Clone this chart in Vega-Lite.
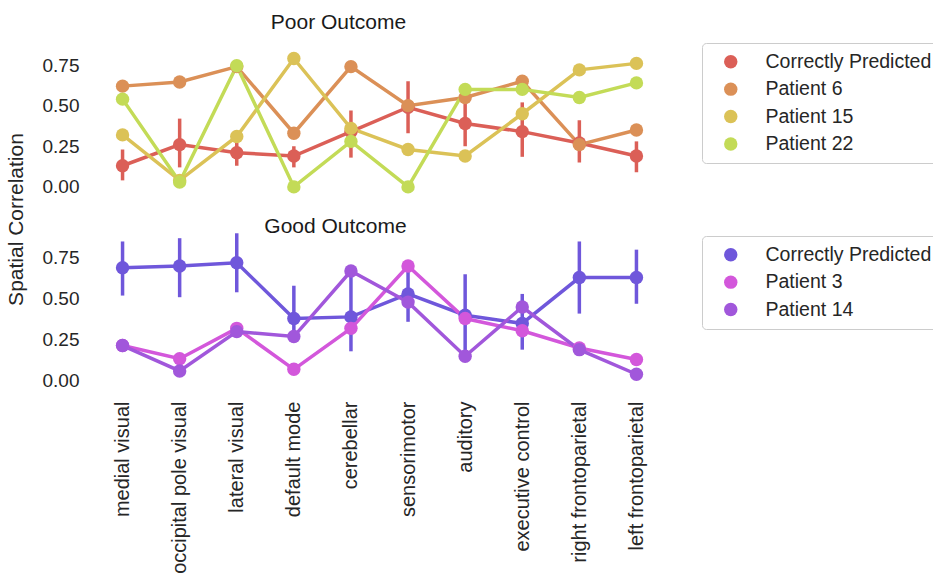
{
  "$schema": "https://vega.github.io/schema/vega-lite/v6.json",
  "background": "white",
  "padding": {"left": 5, "top": 11, "right": 0, "bottom": 0},
  "config": {
    "font": "Liberation Sans",
    "view": {"stroke": null},
    "axis": {"grid": false, "domain": false, "ticks": false, "labelFont": "Liberation Sans", "labelFontSize": 19, "labelColor": "#262626", "titleFont": "Liberation Sans", "titleFontSize": 21, "titleFontWeight": "normal", "titleColor": "#262626"},
    "title": {"fontSize": 21, "fontWeight": "normal", "color": "#1a1a1a", "font": "Liberation Sans"},
    "legend": {"strokeColor": "#cccccc", "cornerRadius": 4, "fillColor": "white", "padding": 9, "symbolOffset": 10, "labelOffset": 25, "labelFont": "Liberation Sans", "labelFontSize": 19.5, "labelColor": "#262626", "symbolType": "circle", "symbolSize": 180, "symbolOpacity": 1, "symbolStrokeWidth": 0, "rowPadding": 6.4, "labelLimit": 400}
  },
  "datasets": {
    "poor": [
      {"series": "Correctly Predicted", "i": 0, "network": "medial visual", "value": 0.13, "lo": 0.04, "hi": 0.23},
      {"series": "Correctly Predicted", "i": 1, "network": "occipital pole visual", "value": 0.26, "lo": 0.12, "hi": 0.42},
      {"series": "Correctly Predicted", "i": 2, "network": "lateral visual", "value": 0.21, "lo": 0.13, "hi": 0.27},
      {"series": "Correctly Predicted", "i": 3, "network": "default mode", "value": 0.19, "lo": 0.12, "hi": 0.25},
      {"series": "Correctly Predicted", "i": 4, "network": "cerebellar", "value": 0.34, "lo": 0.18, "hi": 0.47},
      {"series": "Correctly Predicted", "i": 5, "network": "sensorimotor", "value": 0.49, "lo": 0.33, "hi": 0.65},
      {"series": "Correctly Predicted", "i": 6, "network": "auditory", "value": 0.39, "lo": 0.25, "hi": 0.52},
      {"series": "Correctly Predicted", "i": 7, "network": "executive control", "value": 0.34, "lo": 0.185, "hi": 0.52},
      {"series": "Correctly Predicted", "i": 8, "network": "right frontoparietal", "value": 0.27, "lo": 0.15, "hi": 0.41},
      {"series": "Correctly Predicted", "i": 9, "network": "left frontoparietal", "value": 0.19, "lo": 0.09, "hi": 0.28},
      {"series": "Patient 6", "i": 0, "network": "medial visual", "value": 0.62},
      {"series": "Patient 6", "i": 1, "network": "occipital pole visual", "value": 0.645},
      {"series": "Patient 6", "i": 2, "network": "lateral visual", "value": 0.74},
      {"series": "Patient 6", "i": 3, "network": "default mode", "value": 0.33},
      {"series": "Patient 6", "i": 4, "network": "cerebellar", "value": 0.74},
      {"series": "Patient 6", "i": 5, "network": "sensorimotor", "value": 0.5},
      {"series": "Patient 6", "i": 6, "network": "auditory", "value": 0.55},
      {"series": "Patient 6", "i": 7, "network": "executive control", "value": 0.65},
      {"series": "Patient 6", "i": 8, "network": "right frontoparietal", "value": 0.26},
      {"series": "Patient 6", "i": 9, "network": "left frontoparietal", "value": 0.35},
      {"series": "Patient 15", "i": 0, "network": "medial visual", "value": 0.32},
      {"series": "Patient 15", "i": 1, "network": "occipital pole visual", "value": 0.04},
      {"series": "Patient 15", "i": 2, "network": "lateral visual", "value": 0.31},
      {"series": "Patient 15", "i": 3, "network": "default mode", "value": 0.79},
      {"series": "Patient 15", "i": 4, "network": "cerebellar", "value": 0.36},
      {"series": "Patient 15", "i": 5, "network": "sensorimotor", "value": 0.23},
      {"series": "Patient 15", "i": 6, "network": "auditory", "value": 0.19},
      {"series": "Patient 15", "i": 7, "network": "executive control", "value": 0.45},
      {"series": "Patient 15", "i": 8, "network": "right frontoparietal", "value": 0.72},
      {"series": "Patient 15", "i": 9, "network": "left frontoparietal", "value": 0.76},
      {"series": "Patient 22", "i": 0, "network": "medial visual", "value": 0.54},
      {"series": "Patient 22", "i": 1, "network": "occipital pole visual", "value": 0.03},
      {"series": "Patient 22", "i": 2, "network": "lateral visual", "value": 0.745},
      {"series": "Patient 22", "i": 3, "network": "default mode", "value": 0.0},
      {"series": "Patient 22", "i": 4, "network": "cerebellar", "value": 0.28},
      {"series": "Patient 22", "i": 5, "network": "sensorimotor", "value": 0.0},
      {"series": "Patient 22", "i": 6, "network": "auditory", "value": 0.6},
      {"series": "Patient 22", "i": 7, "network": "executive control", "value": 0.6},
      {"series": "Patient 22", "i": 8, "network": "right frontoparietal", "value": 0.55},
      {"series": "Patient 22", "i": 9, "network": "left frontoparietal", "value": 0.64}
    ],
    "good": [
      {"series": "Correctly Predicted", "i": 0, "network": "medial visual", "value": 0.69, "lo": 0.52, "hi": 0.85},
      {"series": "Correctly Predicted", "i": 1, "network": "occipital pole visual", "value": 0.7, "lo": 0.51, "hi": 0.87},
      {"series": "Correctly Predicted", "i": 2, "network": "lateral visual", "value": 0.72, "lo": 0.54, "hi": 0.9},
      {"series": "Correctly Predicted", "i": 3, "network": "default mode", "value": 0.38, "lo": 0.28, "hi": 0.58},
      {"series": "Correctly Predicted", "i": 4, "network": "cerebellar", "value": 0.39, "lo": 0.18, "hi": 0.65},
      {"series": "Correctly Predicted", "i": 5, "network": "sensorimotor", "value": 0.53, "lo": 0.36, "hi": 0.68},
      {"series": "Correctly Predicted", "i": 6, "network": "auditory", "value": 0.4, "lo": 0.15, "hi": 0.65},
      {"series": "Correctly Predicted", "i": 7, "network": "executive control", "value": 0.35, "lo": 0.19, "hi": 0.53},
      {"series": "Correctly Predicted", "i": 8, "network": "right frontoparietal", "value": 0.63, "lo": 0.41, "hi": 0.85},
      {"series": "Correctly Predicted", "i": 9, "network": "left frontoparietal", "value": 0.63, "lo": 0.47, "hi": 0.8},
      {"series": "Patient 3", "i": 0, "network": "medial visual", "value": 0.215},
      {"series": "Patient 3", "i": 1, "network": "occipital pole visual", "value": 0.135},
      {"series": "Patient 3", "i": 2, "network": "lateral visual", "value": 0.32},
      {"series": "Patient 3", "i": 3, "network": "default mode", "value": 0.07},
      {"series": "Patient 3", "i": 4, "network": "cerebellar", "value": 0.32},
      {"series": "Patient 3", "i": 5, "network": "sensorimotor", "value": 0.7},
      {"series": "Patient 3", "i": 6, "network": "auditory", "value": 0.38},
      {"series": "Patient 3", "i": 7, "network": "executive control", "value": 0.305},
      {"series": "Patient 3", "i": 8, "network": "right frontoparietal", "value": 0.2},
      {"series": "Patient 3", "i": 9, "network": "left frontoparietal", "value": 0.13},
      {"series": "Patient 14", "i": 0, "network": "medial visual", "value": 0.215},
      {"series": "Patient 14", "i": 1, "network": "occipital pole visual", "value": 0.06},
      {"series": "Patient 14", "i": 2, "network": "lateral visual", "value": 0.3},
      {"series": "Patient 14", "i": 3, "network": "default mode", "value": 0.27},
      {"series": "Patient 14", "i": 4, "network": "cerebellar", "value": 0.67},
      {"series": "Patient 14", "i": 5, "network": "sensorimotor", "value": 0.48},
      {"series": "Patient 14", "i": 6, "network": "auditory", "value": 0.15},
      {"series": "Patient 14", "i": 7, "network": "executive control", "value": 0.45},
      {"series": "Patient 14", "i": 8, "network": "right frontoparietal", "value": 0.19},
      {"series": "Patient 14", "i": 9, "network": "left frontoparietal", "value": 0.04}
    ]
  },
  "bounds": "flush",
  "spacing": 35,
  "vconcat": [
    {
      "title": {"text": "Poor Outcome", "dx": -41, "offset": 10},
      "width": 571,
      "height": 143,
      "data": {"name": "poor"},
      "encoding": {
        "x": {"field": "network", "type": "nominal", "sort": ["medial visual", "occipital pole visual", "lateral visual", "default mode", "cerebellar", "sensorimotor", "auditory", "executive control", "right frontoparietal", "left frontoparietal"], "scale": {"type": "point", "padding": 0.5}, "axis": null},
        "color": {"field": "series", "type": "nominal", "scale": {"domain": ["Correctly Predicted", "Patient 6", "Patient 15", "Patient 22"], "range": ["#db5f57", "#db9057", "#dbc257", "#c3db57"]}, "legend": {"title": null, "orient": "none", "legendX": 608, "legendY": -9}}
      },
      "layer": [
        {
          "transform": [{"filter": "datum.lo != null"}],
          "mark": {"type": "rule", "strokeWidth": 3.5},
          "encoding": {"y": {"field": "lo", "type": "quantitative", "scale": {"domain": [-0.05, 0.83], "nice": false, "zero": false}}, "y2": {"field": "hi"}}
        },
        {
          "mark": {"type": "line", "strokeWidth": 3.5},
          "encoding": {
            "order": {"field": "i", "type": "quantitative"},
            "y": {"field": "value", "type": "quantitative", "scale": {"domain": [-0.05, 0.83], "nice": false, "zero": false}, "axis": {"values": [0, 0.25, 0.5, 0.75], "format": ".2f", "title": "Spatial Correlation", "labelPadding": 15, "titleX": -68, "titleY": 167, "titleAlign": "center", "titleBaseline": "bottom"}}
          }
        },
        {
          "mark": {"type": "circle", "size": 180, "opacity": 1},
          "encoding": {"y": {"field": "value", "type": "quantitative"}}
        }
      ]
    },
    {
      "title": {"text": "Good Outcome", "dx": -44, "offset": -7},
      "width": 571,
      "height": 159,
      "data": {"name": "good"},
      "encoding": {
        "x": {"field": "network", "type": "nominal", "sort": ["medial visual", "occipital pole visual", "lateral visual", "default mode", "cerebellar", "sensorimotor", "auditory", "executive control", "right frontoparietal", "left frontoparietal"], "scale": {"type": "point", "padding": 0.5}, "axis": {"title": null, "labelAngle": -90, "labelPadding": 12, "labelFontSize": 20}},
        "color": {"field": "series", "type": "nominal", "scale": {"domain": ["Correctly Predicted", "Patient 3", "Patient 14"], "range": ["#6f57db", "#d357db", "#a157db"]}, "legend": {"title": null, "orient": "none", "legendX": 608, "legendY": 6}}
      },
      "layer": [
        {
          "transform": [{"filter": "datum.lo != null"}],
          "mark": {"type": "rule", "strokeWidth": 3.5},
          "encoding": {"y": {"field": "lo", "type": "quantitative", "scale": {"domain": [-0.05, 0.92], "nice": false, "zero": false}}, "y2": {"field": "hi"}}
        },
        {
          "mark": {"type": "line", "strokeWidth": 3.5},
          "encoding": {
            "order": {"field": "i", "type": "quantitative"},
            "y": {"field": "value", "type": "quantitative", "scale": {"domain": [-0.05, 0.92], "nice": false, "zero": false}, "axis": {"values": [0, 0.25, 0.5, 0.75], "format": ".2f", "title": null, "labelPadding": 15}}
          }
        },
        {
          "mark": {"type": "circle", "size": 180, "opacity": 1},
          "encoding": {"y": {"field": "value", "type": "quantitative"}}
        }
      ]
    }
  ],
  "resolve": {"scale": {"color": "independent"}, "legend": {"color": "independent"}}
}
